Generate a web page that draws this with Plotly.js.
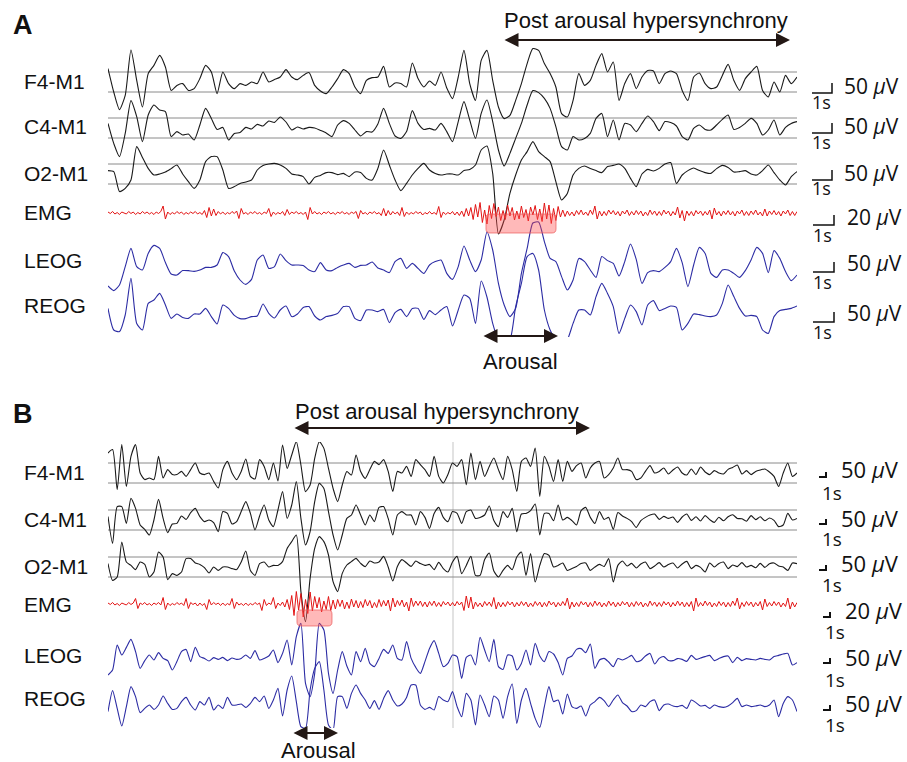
<!DOCTYPE html>
<html><head><meta charset="utf-8">
<script src="https://cdn.plot.ly/plotly-3.0.1.min.js"></script>
<style>html,body{margin:0;padding:0;background:#fff}#chart{width:907px;height:762px}</style>
</head><body><div id="chart"></div>
<script>
// ---------------- DATA ----------------
const channels = ["F4-M1","C4-M1","O2-M1","EMG","LEOG","REOG"];
const ampLabels = ["50 ","50 ","50 ","20 ","50 ","50 "];
const timeLabel = "1s";
const panelLetters = ["A","B"];
const annotTitle = "Post arousal hypersynchrony";
const annotArousal = "Arousal";
const dtA = 0.25, dtB = 0.2, dtEMG = 0.1;   // s between samples
const epochSec = 30;

// Panel A (µV, positive up), 0.25 s steps
const A_F4 = [67,-50,-138,-67,160,8,-125,42,83,133, 75,-42,-17,-8,-42,-33,17,83,50,-58, 50,-8,-33,-8,-17,0,-8,50,0,12, 25,62,25,12,33,47,-17,-45,-58,-25, 17,62,42,-25,-58,8,22,25,78,-25, -5,-8,-25,95,17,-25,5,-17,50,-30, -83,25,158,-8,-92,108,158,8,-125,-183, -167,-92,-8,92,167,158,92,42,-25,-158, -175,-92,42,-17,8,83,142,50,100,-92, -8,42,-33,25,58,55,-8,42,55,42, -42,-92,25,45,-8,-33,-25,33,88,8, -42,17,50,78,-42,-75,0,-50,33,-8, 25];
const A_C4 = [23,-77,-143,-27,137,57,-68,65,115,90, 82,-43,-18,-35,-30,-60,15,98,48,-7, 3,-60,-27,-23,3,-5,18,10,35,28, 55,30,-10,5,-5,3,0,-12,-25,-43, 15,37,23,-10,-40,-18,-20,20,98,23, -40,-52,-18,87,23,-7,-2,-10,23,-18, -68,32,132,40,-52,73,140,32,-110,-190, -127,-52,23,115,187,177,148,98,7,-93, -110,-43,-60,-52,-27,48,73,-43,40,-60, 23,15,-18,23,60,32,-13,32,27,10, -43,-60,-2,15,-7,-10,15,43,65,-7, 3,23,48,23,-35,-10,40,-35,3,23, 32];
const A_O2 = [17,12,-88,-72,-30,137,83,28,-5,0, 10,27,45,0,-38,-72,-30,62,87,87, 20,-72,-63,-47,-40,-30,20,43,50,53, 45,28,0,-5,-13,-50,-17,-7,7,7, -3,3,-13,10,7,-22,-30,28,120,45, -30,-83,-47,-5,28,53,20,3,-5,0, 0,-5,17,23,45,120,140,3,-300,-230, -97,-5,70,112,162,112,87,62,-38,-130, -97,-5,28,40,28,17,7,37,43,50, 28,-22,-63,0,23,15,28,50,57,-47, -5,17,30,17,7,3,27,43,33,10, 12,17,0,-5,17,45,7,-30,-55,-13, 12];
const A_LEOG = [-100,-123,-95,-3,88,-3,-20,63,103,88, 17,-40,-45,-23,-23,-27,-20,-7,-7,5, 67,47,-25,-70,-92,-67,30,55,-12,-3, 60,27,5,5,3,-20,-28,17,-20,-23, -7,5,13,-7,3,5,20,-10,-20,-33, 22,38,-12,13,-12,-37,5,22,30,-37, -67,-3,100,30,-28,30,170,80,-87,-195, -253,-212,-37,88,215,220,122,38,22,-53, -120,-70,38,22,-20,-57,47,27,13,-50, 22,110,33,-87,-33,-23,-28,-7,22,88, 17,-103,5,93,63,-37,-57,-20,-20,-37, -57,-23,30,93,63,-33,77,38,-28,-73, -45];
const A_REOG = [23,-85,-93,-10,173,-52,-85,48,65,98, 40,-27,-5,-22,-27,-5,-5,23,-18,-55, 40,23,-12,-28,-28,-18,-15,45,-2,-25, 15,35,-18,-5,28,32,-15,-35,-18,-12, -2,32,32,-27,-38,15,15,7,18,-48, 2,18,-18,23,23,-32,12,-8,15,32, -65,15,90,73,-52,160,80,-52,-135,-152, -135,32,148,282,298,215,15,-85,-135,-168, -135,-52,15,15,-10,82,148,98,32,-102, -27,40,7,-60,40,62,12,23,35,28, -85,-52,-5,-8,-15,-18,-10,48,140,82, 23,-15,-12,-18,-85,-102,-18,12,18,23, 35];
// EMG panel A (µV), 0.1 s steps
const A_EMG = [2,-1,3,-2,1,-3,2,0,-2,3, -1,2,-3,1,-2,3,-1,2,-2,1, -3,2,-1,3,14,-12,2,-3,1,-2, 3,-1,2,-3,1,-2,2,-1,3,-2, 1,-3,5,-9,11,-6,8,-5,3,-2, 2,-3,1,-2,3,-1,4,-11,9,-2, 1,-3,2,-1,3,-2,1,-3,2,-1, 9,-7,2,-3,1,-2,3,-5,7,-3, 2,-1,3,-2,1,-3,2,-13,11,-2, 3,-2,1,-3,2,-1,3,-2,1,-3, 2,-1,3,-2,1,-3,2,-1,3,-11, 5,-2,1,-3,2,-1,3,-2,1,-5, 9,-6,5,-4,3,-2,2,-5,11,-7, 2,-3,1,-2,3,-1,2,-4,1,-2, 3,-2,1,-3,13,-9,2,-3,1,-2, 3,-4,2,-5,4,-7,9,-6,11,-13, 17,-8,21,-19,6,-22,15,-11,19,-7, 12,-15,5,-13,16,-6,11,-14,4,-12, 14,-9,7,-16,12,-4,15,-13,8,-17, 20,-12,16,-21,9,-15,13,-8,6,-7, 4,-5,2,-6,5,-3,6,-4,2,-5, 6,-3,14,-12,4,-6,3,-5,6,-2, 5,-4,3,-6,4,-2,6,-5,3,-4, 5,-3,4,-6,2,-5,6,-3,4,-5, 3,-5,6,-2,4,-6,3,-4,12,-10, 5,-16,4,-5,3,-6,5,-2,4,-5, 3,-4,6,-12,10,-4,3,-6,4,-3, 5,-4,3,-6,4,-2,6,-5,3,-5, 4,-3,6,-4,2,-6,8,-6,4,-3, 5,-4,3,-6,4,-2,6,-5,3,-5, 3];

// Panel B (µV), 0.2 s steps
const B_F4 = [100,117,-83,142,-67,83,142,0,-33,-25, -33,83,-25,17,-8,-8,8,-17,17,50, 0,-8,0,-42,-75,17,58,0,-33,8, 70,-17,-30,67,33,-33,50,-40,140,23, 90,157,40,-93,-60,73,157,123,23,-77, -143,-60,7,-10,90,7,-27,17,58,42, 67,8,-92,8,0,33,-17,67,42,17, -17,83,-17,-50,-8,50,33,67,-58,100, -33,58,-17,33,75,17,-33,83,17,-92, 58,75,33,125,-117,83,33,-42,67,-42, 58,8,37,50,-25,25,50,58,-25,-8, 25,75,17,17,8,-33,-25,8,37,0, 8,25,-5,15,30,0,-10,20,-8,30, 5,-8,12,0,-5,18,28,40,-5,12, -8,8,15,20,5,-17,-67,0,50,-17, 0];
const B_C4 = [17,-117,67,67,-17,108,58,-25,-47,-75, 0,103,8,-63,-20,-17,20,3,37,58, 17,-8,0,-13,-58,42,33,-20,-8,42, 92,33,-50,20,75,0,-33,50,142,8, 75,192,8,-125,-58,92,183,158,42,-75, -150,-75,8,25,75,25,-25,25,-8,63, 67,8,-75,25,42,25,25,-25,42,13, -42,33,63,13,-8,42,33,-17,42,50, 8,13,25,70,-3,-33,42,13,58,-58, 30,33,47,80,-75,33,33,-3,75,0, 13,-3,-25,47,63,13,-17,42,3,13, -47,37,20,8,-8,-37,-3,13,25,30, 3,18,8,15,-12,15,30,-2,16,-5, 22,2,-12,14,-4,16,26,8,6,-6, 22,2,16,-4,10,-2,-33,-25,33,0, 8];
const B_O2 = [17,-67,-50,125,25,8,-13,25,13,-50, -25,75,50,-63,-33,-42,-25,42,42,20, 13,-3,-30,0,-17,0,0,-8,-13,25, 80,-17,-42,17,25,0,8,8,27,93, 127,160,-123,-273,-57,93,152,127,60,-73, -123,-32,10,27,43,18,2,30,20,25, 53,0,-70,3,37,20,3,30,17,8, 13,-13,23,-8,-25,25,53,-33,8,53, -42,-42,37,70,-20,-50,-17,8,-13,50, 75,-42,67,-75,8,67,58,0,8,20, -17,-8,3,17,20,-17,0,13,3,42, -75,8,30,5,18,-5,15,25,-8,5, 22,0,12,20,-5,15,28,-8,8,-2, -25,20,0,18,25,-8,10,2,22,0, 8,-4,18,-2,16,20,5,0,-17,20, 17];
const B_LEOG = [-90,-65,60,10,48,88,27,-57,-18,10, -15,22,-7,-18,-65,-23,27,38,-23,48, 2,-7,-20,-3,-12,-2,-18,-5,-12,-7, 10,-7,32,-15,-7,5,35,-28,18,85, -40,102,168,-132,-198,-82,168,135,-82,-182, -65,27,-45,-90,27,-23,43,-32,-48,-7, 38,18,60,-7,-15,77,-7,-52,-82,-23, 43,82,18,-48,-32,10,2,-107,-2,10, -40,98,35,-23,88,-48,-62,10,5,-65, -32,35,-40,68,5,-23,27,15,-28,-90, -7,5,38,42,22,65,-57,-15,-7,-25, -48,-8,-15,-5,8,-23,-18,5,18,-35, -7,2,-18,-18,-8,-12,-22,8,-12,-5, 2,8,-18,-8,2,5,-28,-2,-18,-8, -12,-15,-7,-12,-15,2,8,15,18,-40, -28];
const B_REOG = [-38,67,-22,-110,-13,87,37,-43,-22,-5, -27,-5,40,3,-27,-22,12,33,-5,-30, 12,-5,33,-30,-5,-22,33,-5,-5,0, -17,3,33,12,40,-22,20,78,-60,70, 140,12,-113,-122,70,178,212,70,-105,-130, 37,37,-22,53,95,53,20,-22,17,-27, 28,67,20,-10,0,33,95,95,-5,-27, -17,-30,37,20,12,62,-13,-63,53,20, -105,45,-5,-63,40,20,-72,37,100,-97, 20,78,3,-72,-117,-13,87,12,20,-50, 50,-13,-22,-10,-60,-5,12,33,17,-13, 20,45,7,-10,-38,-33,-5,-13,12,20, -33,-5,0,-10,-13,-7,-22,20,7,-10, -7,-22,-5,-13,-17,-10,7,28,-13,-5, -13,-10,-5,-13,-5,20,-63,3,37,20, -38];
const B_EMG = [2,-1,3,-2,1,-3,2,0,-2,3, -1,2,11,-9,2,-1,3,-2,1,-3, 2,-1,3,-2,13,-11,2,-3,1,-2, 3,-1,2,-3,11,-9,3,-1,2,-4, 2,-3,1,-11,9,-2,3,-1,2,-3, 2,-3,1,-2,11,-9,4,-2,1,-3, 2,-3,1,-2,3,-1,2,-13,9,-3, 2,-1,13,-9,2,-3,4,-6,9,-11, 17,-23,25,-12,21,-26,9,-19,24,-14, 15,-8,13,-16,6,-11,15,-13,8,-10, 9,-5,8,-10,4,-9,10,-6,7,-8, 5,-7,9,-4,7,-8,3,-7,9,-5, 7,-4,8,-14,12,-6,7,-3,8,-6, 4,-14,12,-5,6,-3,6,-5,4,-6, 5,-3,6,-5,3,-5,5,-2,4,-4, 3,-4,5,-2,4,-13,16,-8,14,-10, 4,-5,2,-6,5,-3,4,-5,13,-10, 4,-6,3,-5,5,-2,4,-6,3,-4, 5,-3,4,-6,2,-5,5,-3,4,-6, 3,-5,6,-2,4,-6,3,-4,5,-3, 12,-10,4,-6,3,-5,5,-2,4,-6, 3,-5,6,-3,4,-6,2,-5,6,-3, 4,-6,3,-4,5,-2,4,-6,3,-5, 5,-3,4,-6,2,-5,6,-3,4,-5, 3,-5,5,-2,4,-6,3,-4,6,-3, 4,-6,3,-5,5,-14,12,-5,3,-4, 6,-3,4,-6,2,-5,5,-3,4,-6, 3,-5,6,-3,12,-10,3,-5,5,-3, 4,-6,3,-4,5,-12,10,-5,3,-4, 5,-3,4,-6,2,-5,12,-10,4,-6, 3];

// ---------------- LAYOUT GEOMETRY (pixels) ----------------
const W = 907, H = 762, PX0 = 108, PX1 = 797;
const X = p => p / W, Y = p => 1 - p / H;
const pxPerUnit = [0.2, 0.2, 0.2, 0.5, 0.2, 0.2];
const colors = ['#1a1a1a', '#1a1a1a', '#1a1a1a', '#e31414', '#2c2ca4', '#2c2ca4'];
const panels = [
  { top: 48, bot: 337, centers: [82, 128, 174, 213, 266, 313],
    series: [A_F4, A_C4, A_O2, A_EMG, A_LEOG, A_REOG], dts: [dtA, dtA, dtA, dtEMG, dtA, dtA],
    labelY: [81, 127, 173, 213, 260, 305], letterY: 25,
    titleX: 646, titleY: 21, arrow: [503, 790, 40],
    arousalX: 520, arousalY: 361, arousalArrow: [482, 558, 336],
    rect: [486, 214, 556, 233],
    scale: { barY: [93, 133, 180, 225, 272, 322], textY: [86, 126, 173, 217, 263, 313], sY: [102, 142, 188, 235, 282, 332],
      barX0: [812, 812, 812, 813, 813, 813], barX1: [832, 832, 832, 834, 834, 834], tick: 10,
      textX: [842, 842, 842, 845, 845, 845], sX: [810, 810, 810, 811, 811, 811], font: 21, sfont: 18, lw: 1.5 } },
  { top: 442, bot: 728, centers: [473, 520, 567, 604, 657, 704],
    series: [B_F4, B_C4, B_O2, B_EMG, B_LEOG, B_REOG], dts: [dtB, dtB, dtB, dtEMG, dtB, dtB],
    labelY: [472, 519, 566, 604, 655, 698], letterY: 414,
    titleX: 437, titleY: 411, arrow: [293, 590, 428],
    arousalX: 318, arousalY: 750, arousalArrow: [292, 338, 733],
    rect: [297, 610, 332, 626],
    scale: { barY: [477, 524, 570, 617, 663, 710], textY: [469, 518, 563, 610, 657, 703], sY: [493, 539, 585, 632, 680, 725],
      barX0: [819, 819, 819, 823, 823, 823], barX1: [826, 826, 826, 830, 830, 830], tick: 5,
      textX: [839, 839, 839, 843, 843, 843], sX: [820, 820, 820, 823, 823, 823], font: 22, sfont: 19, lw: 2 } }
];

const FONT = 'Liberation Sans, Arial, sans-serif';
const SFONT = 'Open Sans, Noto Sans, sans-serif';
const traces = [], shapes = [], annotations = [];
const layout = {
  width: W, height: H, margin: { l: 0, r: 0, t: 0, b: 0 },
  paper_bgcolor: '#fff', plot_bgcolor: 'rgba(0,0,0,0)', showlegend: false,
  shapes, annotations
};

function roundRect(x0, y0, x1, y1, r) {
  const p = (x, y) => X(x).toFixed(5) + ',' + Y(y).toFixed(5);
  return 'M' + p(x0 + r, y0) + ' L' + p(x1 - r, y0) + ' Q' + p(x1, y0) + ' ' + p(x1, y0 + r) +
    ' L' + p(x1, y1 - r) + ' Q' + p(x1, y1) + ' ' + p(x1 - r, y1) +
    ' L' + p(x0 + r, y1) + ' Q' + p(x0, y1) + ' ' + p(x0, y1 - r) +
    ' L' + p(x0, y0 + r) + ' Q' + p(x0, y0) + ' ' + p(x0 + r, y0) + ' Z';
}
function arrow(x0, x1, y) {
  return { xref: 'paper', yref: 'paper', x: X(x1), y: Y(y), ax: -(x1 - x0), ay: 0, axref: 'pixel', ayref: 'pixel',
    showarrow: true, text: '', arrowhead: 2, startarrowhead: 2, arrowside: 'end+start',
    arrowsize: 1.4, startarrowsize: 1.4, arrowwidth: 2, arrowcolor: '#231815' };
}
function text(t, x, y, size, xanchor, family, extra) {
  return Object.assign({ xref: 'paper', yref: 'paper', x: X(x), y: Y(y), text: t, showarrow: false,
    xanchor: xanchor || 'center', yanchor: 'middle', font: { family: family || FONT, size: size, color: '#111' } }, extra || {});
}

panels.forEach((P, p) => {
  const xname = p === 0 ? 'x' : 'x2';
  layout[p === 0 ? 'xaxis' : 'xaxis2'] = { domain: [X(PX0), X(PX1)], range: [0, epochSec], visible: false,
    fixedrange: true, anchor: p === 0 ? 'y' : 'y7' };
  if (p === 1) shapes.push({ type: 'line', xref: 'paper', yref: 'paper', x0: X(453), x1: X(453), y0: Y(P.bot), y1: Y(P.top),
    line: { color: '#e2e2e2', width: 2 }, layer: 'below' });
  P.series.forEach((vals, k) => {
    const n = p * 6 + k + 1;
    const yname = 'y' + (n === 1 ? '' : n);
    const s = pxPerUnit[k], c = P.centers[k];
    const ax = { domain: [Y(P.bot), Y(P.top)], range: [-(P.bot - c) / s, (c - P.top) / s], visible: false, fixedrange: true, anchor: xname };
    if (k > 0) ax.overlaying = p === 0 ? 'y' : 'y7';
    layout['yaxis' + (n === 1 ? '' : n)] = ax;
    if (k < 3) {
      [-50, 50].forEach(v => shapes.push({ type: 'line', xref: xname, yref: yname, x0: 0, x1: epochSec, y0: v, y1: v,
        line: { color: '#8a8a8a', width: 1 }, layer: 'below' }));
    }
    const isEMG = k === 3;
    traces.push({ type: 'scatter', mode: 'lines', x: vals.map((_, i) => i * P.dts[k]), y: vals,
      xaxis: xname, yaxis: yname, hoverinfo: 'skip',
      line: isEMG ? { color: colors[k], width: 1 } : { color: colors[k], width: 1.1, shape: 'spline', smoothing: 0.6 } });
    annotations.push(text(channels[k], 22, P.labelY[k], 21, 'left'));
    const S = P.scale;
    shapes.push({ type: 'path', xref: 'paper', yref: 'paper', line: { color: '#111', width: S.lw },
      path: 'M' + X(S.barX0[k]) + ',' + Y(S.barY[k]) + ' L' + X(S.barX1[k]) + ',' + Y(S.barY[k]) + ' L' + X(S.barX1[k]) + ',' + Y(S.barY[k] - S.tick) });
    annotations.push(text(ampLabels[k] + '<i>μ</i>V', S.textX[k], S.textY[k], S.font, 'left', SFONT));
    annotations.push(text(timeLabel, S.sX[k], S.sY[k], S.sfont, 'left', SFONT));
  });
  annotations.push(text('<b>' + panelLetters[p] + '</b>', 11, P.letterY, 27, 'left'));
  annotations.push(text(annotTitle, P.titleX, P.titleY, 22, 'center'));
  annotations.push(arrow(P.arrow[0], P.arrow[1], P.arrow[2]));
  annotations.push(text(annotArousal, P.arousalX, P.arousalY, 22, 'center'));
  annotations.push(arrow(P.arousalArrow[0], P.arousalArrow[1], P.arousalArrow[2]));
  shapes.push({ type: 'path', xref: 'paper', yref: 'paper', path: roundRect(P.rect[0], P.rect[1], P.rect[2], P.rect[3], 4),
    fillcolor: 'rgba(255,70,70,0.38)', line: { color: 'rgba(235,90,90,0.7)', width: 1 }, layer: 'above' });
});

Plotly.newPlot('chart', traces, layout, { staticPlot: true, displayModeBar: false });
</script></body></html>
